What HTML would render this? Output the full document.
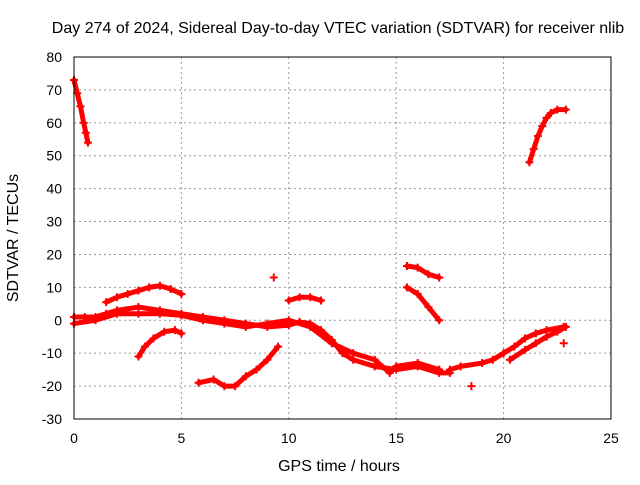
<!DOCTYPE html>
<html><head><meta charset="utf-8"><style>
body{margin:0;background:#fff}
svg text{font-family:"Liberation Sans",sans-serif;font-size:14px;fill:#000}
svg text.big{font-size:16px}
</style></head><body>
<svg id="chart" width="640" height="480">
<text class="big" x="338" y="33" text-anchor="middle">Day 274 of 2024, Sidereal Day-to-day VTEC variation (SDTVAR) for receiver nlib</text>
<text class="big" x="339" y="471" text-anchor="middle">GPS time / hours</text>
<text class="big" transform="translate(18,238) rotate(-90)" text-anchor="middle">SDTVAR / TECUs</text>
<g id="grid"></g><g id="ticks"></g><g id="marks"></g>
<rect x="74" y="57" width="537" height="362" fill="none" stroke="#000"/>
</svg>
<script>
const xTicks=[0,5,10,15,20,25];
const yTicks=[-30,-20,-10,0,10,20,30,40,50,60,70,80];
const trackA=[[0,73],[0.15,69],[0.3,65],[0.45,60],[0.55,57],[0.65,54]];
const trackB=[[21.2,48],[21.4,52],[21.6,56],[21.8,59],[22.0,61.5],[22.2,63],[22.5,64],[22.9,64]];
const trackC=[[1.5,5.5],[2,7],[2.5,8],[3,9],[3.5,10],[4,10.5],[4.5,9.5],[5,8]];
const trackD=[[3,-11],[3.3,-8],[3.7,-5.5],[4.2,-3.5],[4.7,-3],[5,-4]];
const trackE=[[0,1],[0.5,1],[1,1],[1.5,2],[2,3],[3,4],[4,3],[5,2],[6,1],[7,0],[8,-1],[9,-2],[10,-1.5],[10.5,-0.5],[11,-1],[11.5,-3],[12,-6],[12.5,-10],[13,-12],[14,-14],[15,-15],[16,-14],[17,-16],[17.5,-16]];
const trackF=[[0,-1],[1,0],[2,2],[3,2],[4,2],[5,1.5],[6,0],[7,-1],[8,-2],[9,-1],[10,0],[11,-2],[12,-7],[13,-10],[14,-12],[14.7,-16],[15,-14],[16,-13],[17,-15]];
const trackG=[[5.8,-19],[6.5,-18],[7,-20],[7.5,-20],[8,-17],[8.5,-15],[9,-12],[9.5,-8]];
const trackH=[[10,6],[10.5,7],[11,7],[11.5,6]];
const trackI=[[15.5,16.5],[16,16],[16.5,14],[17,13]];
const trackJ=[[15.5,10],[16,8],[16.5,4],[17,0]];
const trackK=[[17.5,-15],[18,-14],[19,-13],[19.5,-12],[20,-10],[20.5,-8],[21,-5.5],[21.5,-4],[22,-3],[22.8,-2]];
const trackL=[[20.3,-12],[21,-9],[21.5,-7],[22,-5],[22.5,-3.5],[22.9,-2]];
const singles=[[9.3,13],[18.5,-20],[22.8,-7]];
const tracks=[trackA,trackB,trackC,trackD,trackE,trackF,trackG,trackH,trackI,trackJ,trackK,trackL];
const NS='http://www.w3.org/2000/svg';
const X=v=>74+v*537/25, Y=v=>419-(v+30)*362/110;
const grid=document.getElementById('grid'),ticks=document.getElementById('ticks'),marks=document.getElementById('marks');
function mk(tag,a,p){const e=document.createElementNS(NS,tag);for(const k in a)e.setAttribute(k,a[k]);p.appendChild(e);return e;}
xTicks.forEach(t=>{const x=X(t);
 if(t>0&&t<25){const g=mk('line',{x1:x,x2:x,y1:57,y2:419,stroke:'#999','stroke-dasharray':'2,3'},grid);
 
 }
 const l=mk('text',{x:x,y:443,'text-anchor':'middle'},ticks);l.textContent=t;
 
 });
yTicks.forEach(t=>{const y=Y(t);
 if(t>-30&&t<80){const g=mk('line',{x1:74,x2:611,y1:y,y2:y,stroke:'#999','stroke-dasharray':'2,3'},grid);
 
 }
 const l=mk('text',{x:62,y:y+5,'text-anchor':'end'},ticks);l.textContent=t;
 
 });
function plus(p){const x=X(p[0]),y=Y(p[1]);
 const e=mk('path',{d:`M${x-4},${y}h8M${x},${y-4}v8`,stroke:'#f00','stroke-width':2},marks);
 
 }
tracks.forEach(t=>{
 const pl=mk('polyline',{points:t.map(p=>X(p[0])+','+Y(p[1])).join(' '),fill:'none',stroke:'#f00','stroke-width':5,'stroke-linejoin':'round','stroke-linecap':'round'},marks);
 
 
 t.forEach(plus);});
singles.forEach(plus);
</script>
</body></html>
